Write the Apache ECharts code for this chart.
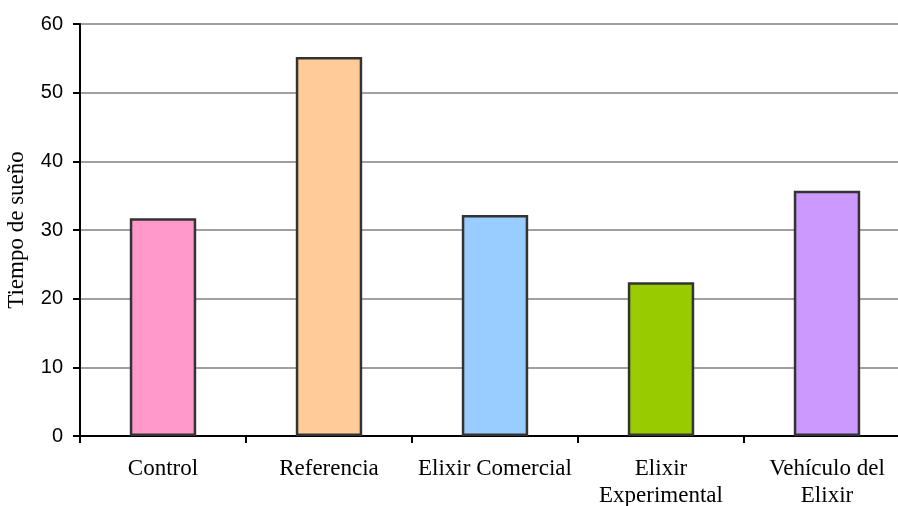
<!DOCTYPE html>
<html>
<head>
<meta charset="utf-8">
<script src="https://cdn.jsdelivr.net/npm/echarts@6/dist/echarts.min.js"></script>
<style>
  html, body { margin: 0; padding: 0; background: #fff; }
  #chart { width: 898px; height: 506px; }
</style>
</head>
<body>
<div id="chart"></div>
<script>
// Sleep time per treatment group
const categories = ['Control', 'Referencia', 'Elixir Comercial', 'Elixir\nExperimental', 'Vehículo del\nElixir'];
const sleepTime = [31.7, 55.2, 32.2, 22.4, 35.7];
const barColors = ['#FF99CC', '#FFCC99', '#99CCFF', '#99CC00', '#CC99FF'];
const yTicks = { min: 0, max: 60, interval: 10 };
const yTitle = 'Tiempo de sueño';

const chart = echarts.init(document.getElementById('chart'), null, { renderer: 'canvas' });

chart.setOption({
  animation: false,
  backgroundColor: '#ffffff',
  grid: { left: 80, right: -12, top: 24, bottom: 70, containLabel: false, outerBoundsMode: 'none' },
  xAxis: {
    type: 'category',
    data: categories,
    boundaryGap: true,
    axisLine: { show: true, lineStyle: { color: '#000', width: 2 } },
    axisTick: { show: true, length: 7, lineStyle: { color: '#000', width: 2 } },
    axisLabel: {
      interval: 0,
      margin: 19,
      color: '#000',
      fontFamily: 'Liberation Serif',
      fontSize: 23,
      lineHeight: 27
    }
  },
  yAxis: {
    type: 'value',
    min: yTicks.min,
    max: yTicks.max,
    interval: yTicks.interval,
    name: yTitle,
    nameLocation: 'middle',
    nameGap: 52,
    nameRotate: 90,
    nameTextStyle: { color: '#000', fontFamily: 'Liberation Serif', fontSize: 23 },
    axisLine: { show: true, lineStyle: { color: '#000', width: 2 } },
    axisTick: { show: true, length: 7, lineStyle: { color: '#000', width: 2 } },
    axisLabel: { margin: 17, color: '#000', fontFamily: 'Liberation Sans', fontSize: 20 },
    splitLine: { show: true, lineStyle: { color: '#a0a0a0', width: 2 } }
  },
  series: [{
    type: 'bar',
    data: sleepTime.map((v, i) => ({ value: v, itemStyle: { color: barColors[i] } })),
    barWidth: '40%',
    itemStyle: { borderColor: '#333333', borderWidth: 2.5 }
  }]
});
</script>
</body>
</html>
